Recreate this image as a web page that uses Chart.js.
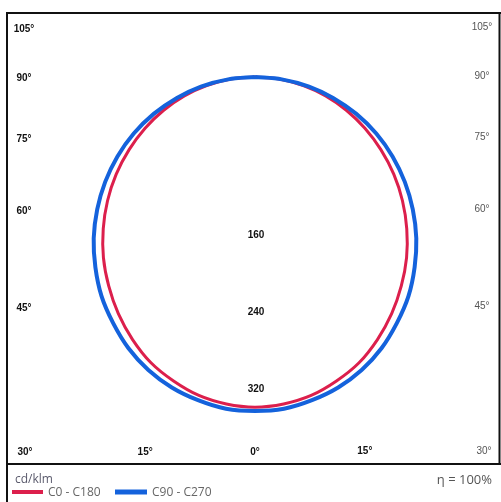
<!DOCTYPE html>
<html>
<head>
<meta charset="utf-8">
<script src="https://cdn.jsdelivr.net/npm/chart.js@4.4.1/dist/chart.umd.min.js"></script>
<style>
    html, body { margin: 0; padding: 0; background: #fff; }
    #polarChart { display: block; }
</style>
</head>
<body>
<canvas id="polarChart" width="501" height="502"></canvas>
<script>
// gamma angles (deg from nadir) and intensities in cd/klm
const gammaAngles = [0, 5, 10, 15, 20, 25, 30, 35, 40, 45, 50, 55, 60, 65, 70, 75, 80, 85, 90];
const c0Values   = [343, 341, 336, 327, 316, 301, 284, 265, 245, 223, 200, 176, 151, 126, 101, 76, 51, 25, 0];
const c180Values = [343, 341, 336, 327, 316, 301, 284, 265, 245, 223, 200, 176, 151, 126, 101, 76, 51, 25, 0];
const c90Values  = [347, 346, 341, 334, 324, 311, 295, 278, 258, 237, 214, 190, 165, 139, 112, 84, 57, 28, 0];
const c270Values = [347, 346, 341, 334, 324, 311, 295, 278, 258, 237, 214, 190, 165, 139, 112, 84, 57, 28, 0];

const ringTicks = [160, 240, 320];
const angleTicks = [105, 90, 75, 60, 45, 30, 15, 0];

const seriesNames = ['C0 - C180', 'C90 - C270'];
const unitLabel = 'cd/klm';
const efficiencyLabel = 'η = 100%';

const redColor = '#dc1f4c';
const blueColor = '#1462dc';

// layout of the diagram
const W = 501, H = 502;
const originX = 255, originY = 77;
const pxPerCd = 0.9625;

function rad(deg) {
    return deg * Math.PI / 180;
}

// left half goes from 90 down to 0, right half from 0 up to 90
function polarPoints(leftValues, rightValues) {
    const pts = [];
    for (let i = gammaAngles.length - 1; i >= 0; i--) {
        const g = rad(gammaAngles[i]);
        pts.push({ x: -leftValues[i] * Math.sin(g), y: -leftValues[i] * Math.cos(g) });
    }
    for (let i = 1; i < gammaAngles.length; i++) {
        const g = rad(gammaAngles[i]);
        pts.push({ x: rightValues[i] * Math.sin(g), y: -rightValues[i] * Math.cos(g) });
    }
    return pts;
}

const framePlugin = {
    id: 'framePlugin',
    afterDraw(chart) {
        const ctx = chart.ctx;
        const xs = chart.scales.x;
        const ys = chart.scales.y;
        const ox = xs.getPixelForValue(0);
        const oy = ys.getPixelForValue(0);

        ctx.save();

        // frame
        ctx.strokeStyle = '#111';
        ctx.lineWidth = 2;
        ctx.beginPath();
        ctx.moveTo(6, 13); ctx.lineTo(W, 13);
        ctx.moveTo(7, 13); ctx.lineTo(7, H);
        ctx.moveTo(499.5, 13); ctx.lineTo(499.5, 464);
        ctx.moveTo(6, 464); ctx.lineTo(W, 464);
        ctx.stroke();

        // ring labels
        ctx.textAlign = 'center';
        ctx.textBaseline = 'middle';
        ctx.fillStyle = '#111';
        ctx.font = 'bold 10px "Liberation Sans", Arial, sans-serif';
        ringTicks.forEach(v => {
            ctx.fillText(String(v), ox + 1, ys.getPixelForValue(-v) + 4);
        });

        // angle labels along the frame
        angleTicks.forEach(a => {
            const txt = a + '°';
            if (a > 30) {
                let y = oy + 230 / Math.tan(rad(a));
                y = Math.max(28, y);
                ctx.font = 'bold 10px "Liberation Sans", Arial, sans-serif';
                ctx.fillStyle = '#111';
                ctx.fillText(txt, 24, y + 1);
                ctx.font = '10px "Liberation Sans", Arial, sans-serif';
                ctx.fillStyle = '#555';
                ctx.fillText(txt, 482, y - 1);
            } else {
                const dx = 410 * Math.tan(rad(a));
                ctx.font = 'bold 10px "Liberation Sans", Arial, sans-serif';
                ctx.fillStyle = '#111';
                if (a === 0) {
                    ctx.fillText(txt, ox, 452);
                } else {
                    ctx.fillText(txt, Math.max(25, ox - dx), 452);
                    if (a === 30) {
                        ctx.font = '10px "Liberation Sans", Arial, sans-serif';
                        ctx.fillStyle = '#555';
                    }
                    ctx.fillText(txt, Math.min(484, ox + dx), 451);
                }
            }
        });

        // legend
        ctx.textAlign = 'left';
        ctx.fillStyle = '#5a5a6c';
        ctx.font = '12px "Open Sans", sans-serif';
        ctx.fillText(unitLabel, 15, 480);

        ctx.lineCap = 'butt';
        ctx.strokeStyle = redColor;
        ctx.lineWidth = 4;
        ctx.beginPath(); ctx.moveTo(12, 492); ctx.lineTo(43, 492); ctx.stroke();
        ctx.strokeStyle = blueColor;
        ctx.lineWidth = 5;
        ctx.beginPath(); ctx.moveTo(115, 492); ctx.lineTo(147, 492); ctx.stroke();

        ctx.fillStyle = '#666';
        ctx.font = '12px "Open Sans", sans-serif';
        ctx.fillText(seriesNames[0], 48, 493);
        ctx.fillText(seriesNames[1], 152, 493);

        ctx.textAlign = 'right';
        ctx.fillStyle = '#555';
        ctx.font = '13px "Open Sans", sans-serif';
        ctx.fillText(efficiencyLabel, 492, 480);

        ctx.restore();
    }
};

const ctx = document.getElementById('polarChart').getContext('2d');
const polarChart = new Chart(ctx, {
    type: 'scatter',
    data: {
        datasets: [{
                label: seriesNames[1],
                data: polarPoints(c270Values, c90Values),
                showLine: true,
                borderColor: blueColor,
                backgroundColor: blueColor,
                borderWidth: 4,
                pointRadius: 0,
                tension: 0.33,
                order: 0
            }, {
                label: seriesNames[0],
                data: polarPoints(c180Values, c0Values),
                showLine: true,
                borderColor: redColor,
                backgroundColor: redColor,
                borderWidth: 3,
                pointRadius: 0,
                tension: 0.33,
                order: 1
            }]
    },
    options: {
        responsive: false,
        animation: false,
        layout: { padding: 0 },
        plugins: {
            legend: { display: false },
            tooltip: { enabled: false }
        },
        scales: {
            x: {
                type: 'linear',
                display: false,
                min: -originX / pxPerCd,
                max: (W - originX) / pxPerCd
            },
            y: {
                type: 'linear',
                display: false,
                min: -(H - originY) / pxPerCd,
                max: originY / pxPerCd
            }
        }
    },
    plugins: [framePlugin]
});
</script>
</body>
</html>
